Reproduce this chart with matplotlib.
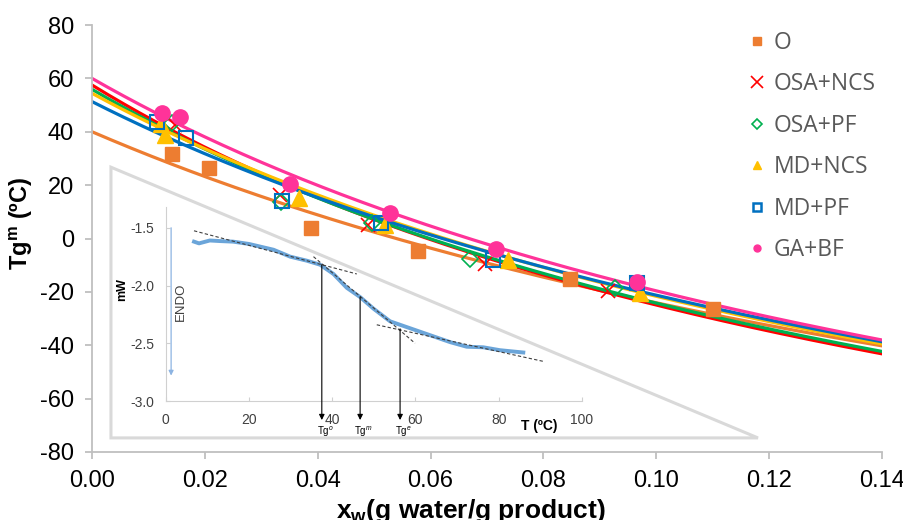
import numpy as np
import matplotlib.pyplot as plt
from matplotlib.lines import Line2D
from matplotlib.patches import Polygon

plt.rcParams['font.family'] = ['Liberation Sans', 'DejaVu Sans']
plt.rcParams['mathtext.fontset'] = 'custom'
plt.rcParams['mathtext.rm'] = 'Liberation Sans'
plt.rcParams['mathtext.it'] = 'Liberation Sans:italic'
plt.rcParams['mathtext.bf'] = 'Liberation Sans:bold'
plt.rcParams['axes.unicode_minus'] = False

# experimental points (x_w in g water/g product, Tg in ºC)
series = ["O", "OSA+NCS", "OSA+PF", "MD+NCS", "MD+PF", "GA+BF"]

xw_o = [0.0142, 0.0207, 0.0388, 0.0577, 0.0847, 0.1101]
tg_o = [31.7, 26.3, 3.8, -4.7, -15.0, -26.3]
xw_osa_ncs = [0.0147, 0.0333, 0.0490, 0.0697, 0.0915]
tg_osa_ncs = [42.5, 16.3, 5.1, -9.5, -19.5]
xw_osa_pf = [0.0141, 0.0335, 0.0496, 0.0670, 0.0927]
tg_osa_pf = [43.2, 13.8, 5.7, -7.6, -18.7]
xw_md_ncs = [0.0122, 0.0129, 0.0367, 0.0519, 0.0738, 0.0971]
tg_md_ncs = [42.9, 38.8, 15.0, 5.0, -8.0, -20.5]
xw_md_pf = [0.0115, 0.0166, 0.0336, 0.0513, 0.0711, 0.0966]
tg_md_pf = [43.8, 37.8, 14.2, 5.7, -8.1, -16.8]
xw_ga_bf = [0.0124, 0.0156, 0.0350, 0.0528, 0.0716, 0.0966]
tg_ga_bf = [46.9, 45.6, 20.4, 9.4, -3.9, -16.2]

# Gordon-Taylor fit parameters (Tg of pure water = -135 ºC)
tg_water = -135.0
tg_solid = [40.0, 57.5, 55.9, 54.4, 51.3, 60.0]
k_gt = [5.20, 6.74, 6.51, 6.04, 5.74, 6.21]

# inset: DSC thermogram
dsc_t = [6.8, 8.0, 10.6, 13.0, 16.2, 20.0, 25.9, 29.9, 33.9, 37.1, 40.3, 43.5,
         46.7, 49.9, 53.9, 56.3, 60.3, 64.3, 68.3, 72.3, 76.3, 80.3, 85.9]
dsc_mw = [-1.62, -1.635, -1.61, -1.615, -1.62, -1.64, -1.69, -1.75, -1.785, -1.82, -1.90, -2.02,
          -2.10, -2.20, -2.31, -2.34, -2.39, -2.44, -2.49, -2.53, -2.535, -2.56, -2.58]
tangent_t = [(6.8, 45.9), (35.5, 59.9), (50.7, 91.1)]
tangent_mw = [(-1.526, -1.90), (-1.75, -2.50), (-2.34, -2.66)]
tg_mark_t = [37.5, 46.7, 56.3]
tg_mark_mw = [-1.82, -2.10, -2.375]
tg_mark_labels = ["Tg$^{o}$", "Tg$^{m}$", "Tg$^{e}$"]

colors = ["#ED7D31", "#FF0000", "#00B050", "#FFC000", "#0070C0", "#FF3399"]
xs = [xw_o, xw_osa_ncs, xw_osa_pf, xw_md_ncs, xw_md_pf, xw_ga_bf]
ys = [tg_o, tg_osa_ncs, tg_osa_pf, tg_md_ncs, tg_md_pf, tg_ga_bf]
marker_kw = [
    dict(marker="s", ms=10, mfc=colors[0], mec=colors[0]),
    dict(marker="x", ms=10, mfc="none", mec=colors[1], mew=1.2),
    dict(marker="D", ms=8.5, mfc="none", mec=colors[2], mew=1.2),
    dict(marker="^", ms=12, mfc=colors[3], mec=colors[3]),
    dict(marker="s", ms=10, mfc="none", mec=colors[4], mew=1.5),
    dict(marker="o", ms=11, mfc=colors[5], mec=colors[5]),
]
legend_kw = [
    dict(marker="s", ms=6, mfc=colors[0], mec=colors[0]),
    dict(marker="x", ms=9, mfc="none", mec=colors[1], mew=1.2),
    dict(marker="D", ms=5, mfc="none", mec=colors[2], mew=1.2),
    dict(marker="^", ms=6, mfc=colors[3], mec=colors[3]),
    dict(marker="s", ms=6, mfc="none", mec=colors[4], mew=1.8),
    dict(marker="o", ms=5, mfc=colors[5], mec=colors[5]),
]

fig = plt.figure(figsize=(9.04, 5.2), dpi=100)
ax = fig.add_axes([92 / 904, 1 - 452 / 520, 790 / 904, 427 / 520])

# frame of the pasted inset picture
frame = Polygon([(0.024, 0.667), (0.024, 0.033), (0.843, 0.033)], closed=True, fill=False,
                edgecolor="#d9d9d9", lw=2.2, transform=ax.transAxes, zorder=1)
ax.add_patch(frame)

xgrid = np.linspace(0, 0.14, 200)
for i in range(len(series)):
    fit = ((1 - xgrid) * tg_solid[i] + k_gt[i] * xgrid * tg_water) / ((1 - xgrid) + k_gt[i] * xgrid)
    ax.plot(xgrid, fit, color=colors[i], lw=2.3, zorder=2)
for i in range(len(series)):
    ax.plot(xs[i], ys[i], ls="none", zorder=3 + i, **marker_kw[i])

ax.set_xlim(0, 0.14)
ax.set_ylim(-80, 80)
ax.set_xticks(np.arange(0, 0.141, 0.02))
ax.set_xticklabels(["%.2f" % v for v in np.arange(0, 0.141, 0.02)])
ax.set_yticks(np.arange(-80, 81, 20))
for s in ["top", "right"]:
    ax.spines[s].set_visible(False)
for s in ["left", "bottom"]:
    ax.spines[s].set_color("#bfbfbf")
    ax.spines[s].set_linewidth(1.3)
ax.tick_params(direction="out", length=5, width=1.3, color="#bfbfbf", labelsize=17)
ax.tick_params(axis="x", pad=8)
ax.tick_params(axis="y", pad=8)

ax.set_xlabel(r"$\mathbf{x_{w}}$(g water/g product)", fontsize=19, fontweight="bold")
ax.xaxis.set_label_coords(0.48, -0.105)
ax.set_ylabel(r"Tg$^{\mathbf{m}}$ (ºC)", fontsize=17, fontweight="bold")
ax.yaxis.set_label_coords(-0.072, 0.535)

handles = [Line2D([], [], ls="none", **legend_kw[i]) for i in range(len(series))]
ax.legend(handles, series, loc="upper left", bbox_to_anchor=(747 / 904, 1 - 31 / 520),
          bbox_transform=fig.transFigure, frameon=False, prop=dict(family="Open Sans", size=16.5),
          labelcolor="#595959", handlelength=0.9, handletextpad=0.25, labelspacing=0.76,
          borderpad=0, borderaxespad=0)

# inset DSC plot
ax_in = fig.add_axes([165.7 / 904, 1 - 401 / 520, 416.3 / 904, 194 / 520])
ax_in.patch.set_alpha(0)
ax_in.plot(dsc_t, dsc_mw, color="#5B9BD5", lw=2.8, alpha=0.9)
for tt, mm in zip(tangent_t, tangent_mw):
    ax_in.plot(tt, mm, color="#404040", lw=0.8, ls=(0, (3, 2)))
for t, m, lab in zip(tg_mark_t, tg_mark_mw, tg_mark_labels):
    ax_in.annotate("", xy=(t, -3.165), xytext=(t, m), annotation_clip=False,
                   arrowprops=dict(arrowstyle="-|>", color="black", lw=0.8, mutation_scale=8,
                                   shrinkA=0, shrinkB=0))
    ax_in.text(t + 0.8, -3.27, lab, fontsize=7, ha="center", va="center", clip_on=False)
ax_in.annotate("", xy=(1.3, -2.78), xytext=(1.3, -1.5), annotation_clip=False,
               arrowprops=dict(arrowstyle="-|>", color="#8DB4E2", lw=0.9, mutation_scale=7,
                               shrinkA=0, shrinkB=0))
ax_in.text(3.7, -2.14, "ENDO", rotation=90, fontsize=9.5, color="#404040", ha="center", va="center")
ax_in.text(-0.105, 0.572, "mW", rotation=90, fontsize=9, fontweight="bold", ha="center", va="center",
           transform=ax_in.transAxes)
ax_in.text(89.7, -3.22, "T (ºC)", fontsize=10, fontweight="bold", ha="center", va="center", clip_on=False)
ax_in.set_xlim(0, 100)
ax_in.set_ylim(-3.0, -1.32)
ax_in.set_xticks([0, 20, 40, 60, 80, 100])
ax_in.set_yticks([-3.0, -2.5, -2.0, -1.5])
ax_in.set_yticklabels(["-3.0", "-2.5", "-2.0", "-1.5"])
for s in ["top", "right"]:
    ax_in.spines[s].set_visible(False)
for s in ["left", "bottom"]:
    ax_in.spines[s].set_color("#d0d0d0")
    ax_in.spines[s].set_linewidth(0.8)
ax_in.tick_params(direction="in", length=3, width=0.8, color="#d0d0d0", labelsize=10,
                  labelcolor="#404040")
ax_in.tick_params(axis="x", pad=9)
ax_in.tick_params(axis="y", pad=8)

fig.savefig("out.png", dpi=100)
